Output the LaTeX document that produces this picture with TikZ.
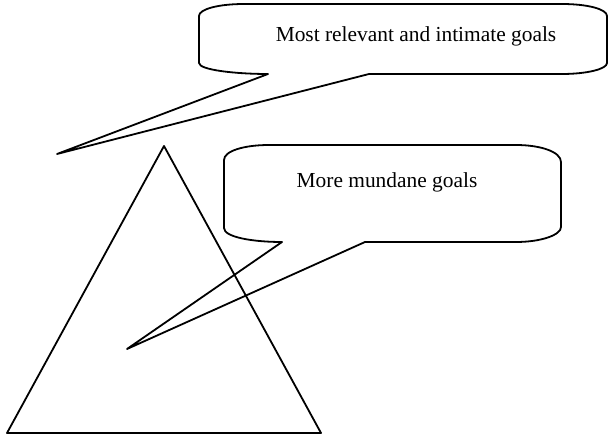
\documentclass[tikz,border=0pt]{standalone}
\usepackage{fontspec}
\setmainfont{Liberation Serif}
\begin{document}
\begin{tikzpicture}[x=1pt,y=-1pt,
  outline/.style={draw=black,line width=1.8pt,line join=round},
  label/.style={font=\fontsize{21.4}{25}\selectfont,inner sep=0pt,anchor=center}]
\useasboundingbox (0,0) rectangle (612,438);

% pyramid
\coordinate (apex) at (164,146);
\coordinate (baseL) at (7,433);
\coordinate (baseR) at (321,433);
\draw[outline] (apex) -- (baseL) -- (baseR) -- cycle;

% upper speech bubble
\coordinate (tipA) at (57,154);
\draw[outline] (268,74) -- (tipA) -- (369,74) -- (562,74)
  .. controls (587,74) and (607,69) .. (607,63) -- (607,16)
  .. controls (607,9) and (587,4) .. (562,4) -- (244,4)
  .. controls (219,4) and (199,9) .. (199,16) -- (199,63)
  .. controls (199,70) and (236,74) .. (268,74) -- cycle;
\node[label] (upper) at (416,36) {Most relevant and intimate goals};

% lower speech bubble
\coordinate (tipB) at (127,349);
\draw[outline] (282,242) -- (tipB) -- (365,242) -- (516,242)
  .. controls (541,242) and (561,235) .. (561,227) -- (561,162)
  .. controls (561,152) and (541,145) .. (516,145) -- (269,145)
  .. controls (244,145) and (224,151) .. (224,160) -- (224,228)
  .. controls (224,237) and (252,242) .. (282,242) -- cycle;
\node[label] (lower) at (387,182) {More mundane goals};
\end{tikzpicture}
\end{document}
